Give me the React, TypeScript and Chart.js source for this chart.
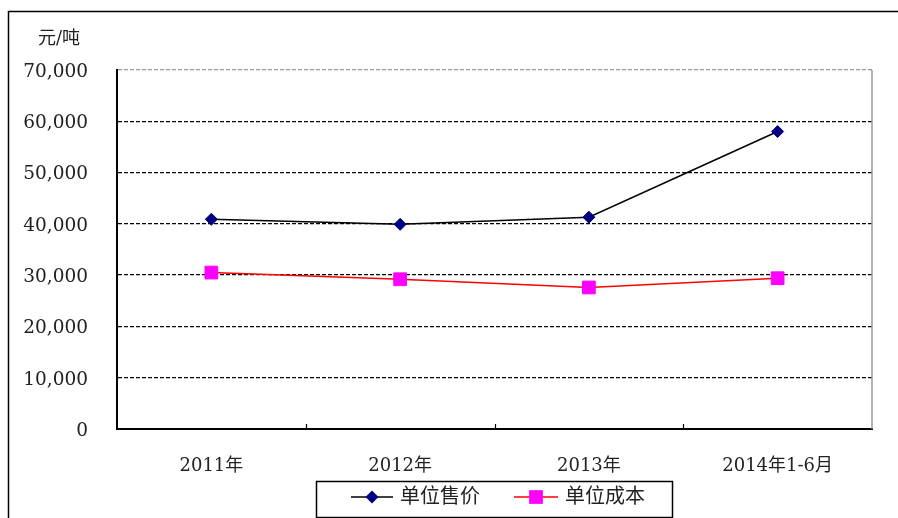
import React, { useEffect, useRef } from "react";
import { Chart, registerables } from "chart.js";

Chart.register(...registerables);

const categories = ["2011年", "2012年", "2013年", "2014年1-6月"];
const priceSeries = [40900, 39900, 41300, 58000];
const costSeries = [30500, 29200, 27600, 29400];
const seriesLabels = ["单位售价", "单位成本"];
const unitLabel = "元/吨";
const yMax = 70000;
const yStep = 10000;

const FONT = "'DejaVu Serif', 'Noto Sans CJK SC', serif";

const decorPlugin = {
  id: "decor",
  beforeDraw(chart: any) {
    const { ctx } = chart;
    ctx.save();
    ctx.fillStyle = "#fff";
    ctx.fillRect(0, 0, chart.width, chart.height);
    ctx.restore();
  },
  afterDraw(chart: any) {
    const { ctx, chartArea } = chart;
    const xs = chart.scales.x;
    ctx.save();
    // outer frame
    ctx.strokeStyle = "#000";
    ctx.lineWidth = 1.5;
    ctx.beginPath();
    ctx.moveTo(8.5, chart.height);
    ctx.lineTo(8.5, 11.5);
    ctx.lineTo(chart.width, 11.5);
    ctx.stroke();
    // right border of plot area
    ctx.strokeStyle = "#999";
    ctx.lineWidth = 1.5;
    ctx.beginPath();
    ctx.moveTo(chartArea.right, chartArea.top);
    ctx.lineTo(chartArea.right, chartArea.bottom);
    ctx.stroke();
    // tick marks at category boundaries
    ctx.strokeStyle = "#000";
    ctx.lineWidth = 1.2;
    const n = categories.length;
    for (let i = 1; i < n; i++) {
      const x = Math.round((xs.getPixelForValue(i - 1) + xs.getPixelForValue(i)) / 2) + 0.5;
      ctx.beginPath();
      ctx.moveTo(x, chartArea.bottom);
      ctx.lineTo(x, chartArea.bottom - 5);
      ctx.stroke();
    }
    // unit label
    ctx.fillStyle = "#222";
    ctx.font = `18px ${FONT}`;
    ctx.textAlign = "left";
    ctx.textBaseline = "middle";
    ctx.fillText(unitLabel, 38, 39);

    // legend box
    const bx = 316, by = 481, bw = 356, bh = 36;
    ctx.strokeStyle = "#000";
    ctx.lineWidth = 1.5;
    ctx.strokeRect(bx + 0.5, by + 0.5, bw, bh);
    const items = [
      { x0: 351, x1: 393, tx: 400 },
      { x0: 514, x1: 558, tx: 565 },
    ];
    const ly = 497;
    chart.data.datasets.forEach((ds: any, i: number) => {
      const it = items[i];
      ctx.strokeStyle = ds.borderColor;
      ctx.lineWidth = ds.borderWidth;
      ctx.beginPath();
      ctx.moveTo(it.x0, ly);
      ctx.lineTo(it.x1, ly);
      ctx.stroke();
      const cx = (it.x0 + it.x1) / 2;
      ctx.fillStyle = ds.pointBackgroundColor;
      ctx.beginPath();
      if (ds.pointStyle === "rectRot") {
        const r = ds.pointRadius + 0.5;
        ctx.moveTo(cx - r, ly);
        ctx.lineTo(cx, ly - r);
        ctx.lineTo(cx + r, ly);
        ctx.lineTo(cx, ly + r);
        ctx.closePath();
      } else {
        const s = ds.pointRadius * Math.SQRT1_2 + 0.5;
        ctx.rect(cx - s, ly - s, 2 * s, 2 * s);
      }
      ctx.fill();
      ctx.fillStyle = "#222";
      ctx.font = `20px ${FONT}`;
      ctx.textAlign = "left";
      ctx.textBaseline = "middle";
      ctx.fillText(ds.label, it.tx, ly + 1);
    });
    ctx.restore();
  },
};

export default function App() {
  const ref = useRef<HTMLCanvasElement | null>(null);
  useEffect(() => {
    if (!ref.current) return;
    const chart = new Chart(ref.current, {
      type: "line",
      data: {
        labels: categories,
        datasets: [
          {
            label: seriesLabels[0],
            data: priceSeries,
            borderColor: "#000000",
            borderWidth: 1.5,
            pointStyle: "rectRot",
            pointRadius: 6,
            pointBackgroundColor: "#000080",
            pointBorderColor: "#000080",
            pointBorderWidth: 1,
            tension: 0,
          },
          {
            label: seriesLabels[1],
            data: costSeries,
            borderColor: "#ff0000",
            borderWidth: 1.5,
            pointStyle: "rect",
            pointRadius: 9,
            pointBackgroundColor: "#ff00ff",
            pointBorderColor: "#ff00ff",
            pointBorderWidth: 1,
            tension: 0,
          },
        ],
      },
      options: {
        responsive: false,
        animation: false,
        layout: { padding: { top: 70, left: 0, right: 26, bottom: 0 } },
        plugins: { legend: { display: false }, tooltip: { enabled: false } },
        scales: {
          x: {
            offset: true,
            grid: { display: false },
            border: { display: true, color: "#000", width: 2 },
            ticks: {
              color: "#222",
              font: { family: FONT, size: 18 },
              padding: 19,
              maxRotation: 0,
            },
            afterFit(scale: any) {
              scale.height = 89;
            },
          },
          y: {
            min: 0,
            max: yMax,
            grid: {
              drawTicks: false,
              color: (c: any) => (c.tick && c.tick.value === yMax ? "#999" : "#000"),
              lineWidth: 1.3,
            },
            border: { display: true, color: "#000", width: 2, dash: [4, 2] },
            ticks: {
              stepSize: yStep,
              color: "#222",
              font: { family: FONT, size: 18.5 },
              padding: 29,
              labelOffset: 2,
              callback: (v: any) => Number(v).toLocaleString("en-US"),
            },
            afterFit(scale: any) {
              scale.width = 117;
            },
          },
        },
      } as any,
      plugins: [decorPlugin],
    });
    return () => chart.destroy();
  }, []);
  return (
    <div style={{ position: "absolute", left: 0, top: 0, width: 898, height: 518 }}>
      <canvas ref={ref} width={898} height={518} style={{ display: "block" }} />
    </div>
  );
}
